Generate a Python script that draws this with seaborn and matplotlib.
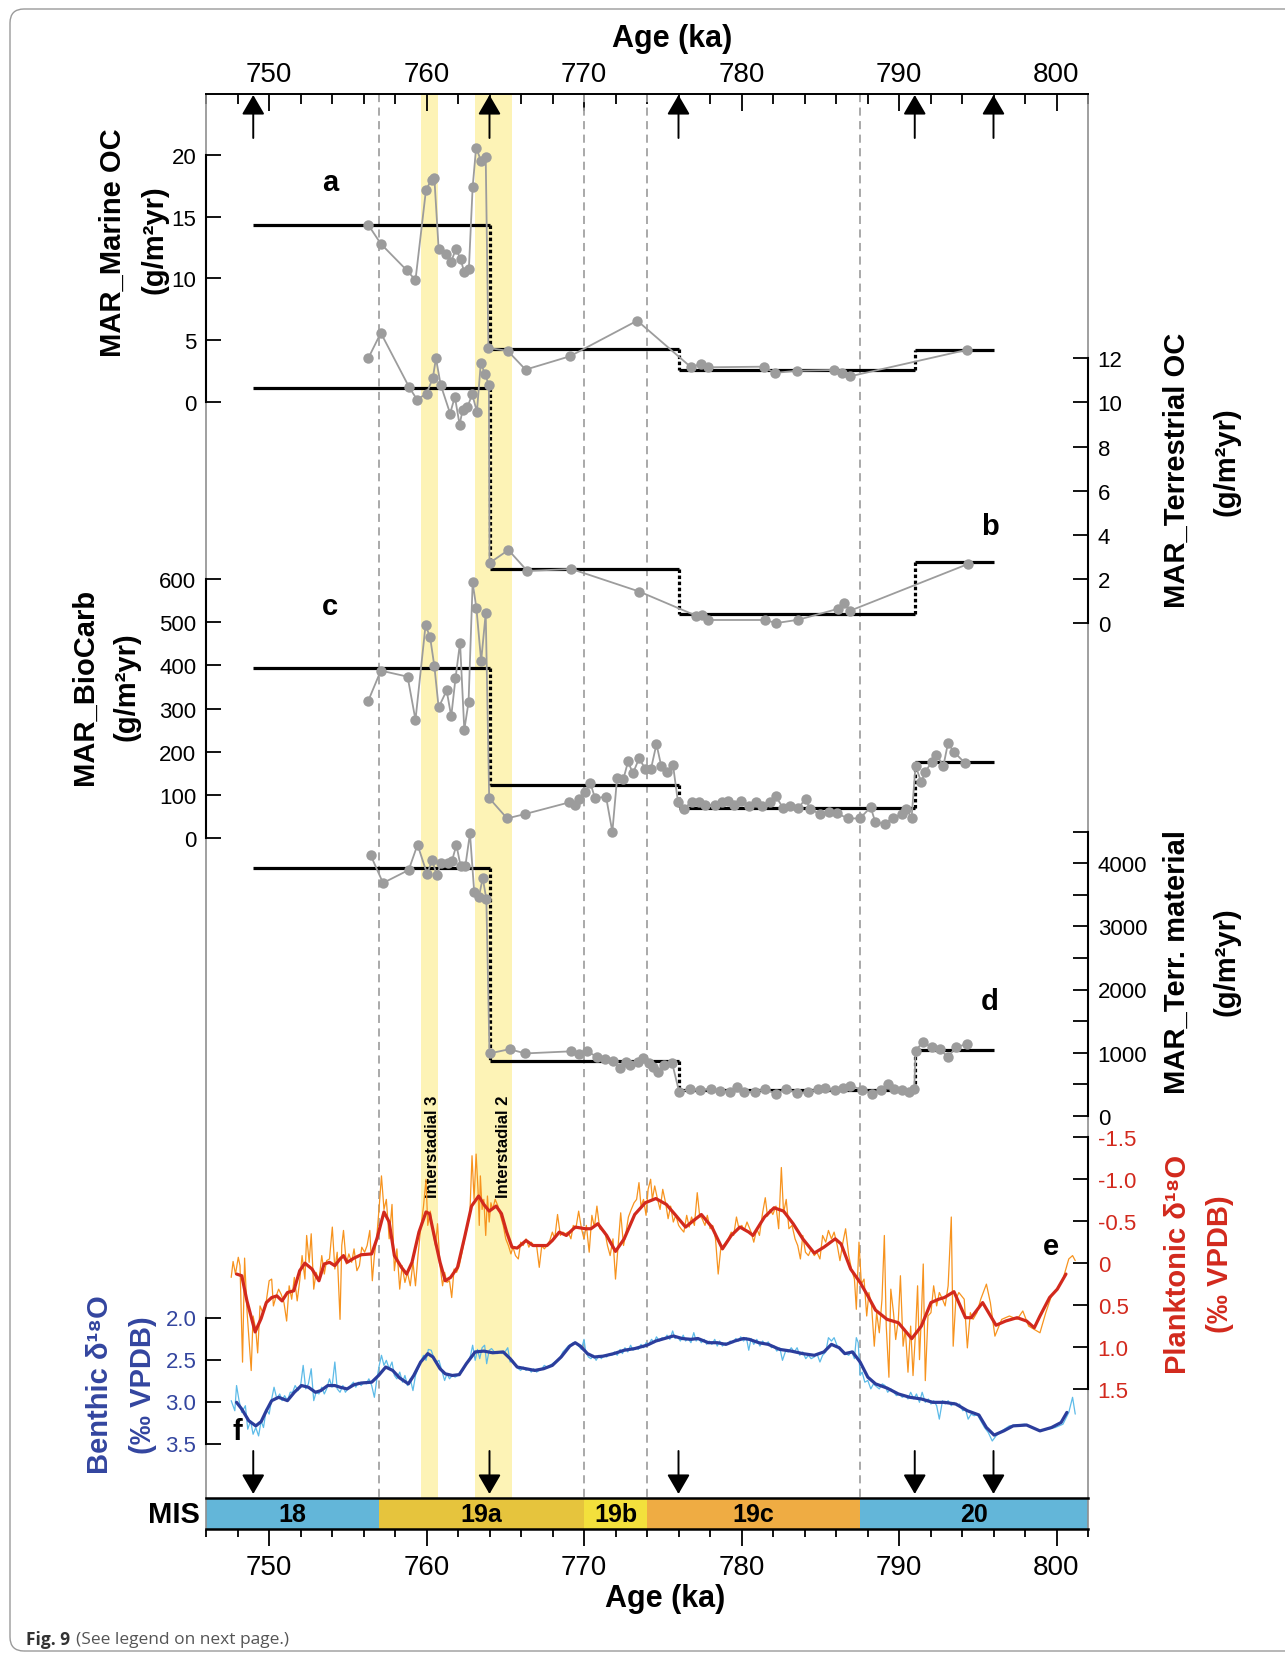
import matplotlib
matplotlib.use("Agg")
import matplotlib.pyplot as plt
from matplotlib.patches import FancyBboxPatch
from matplotlib.ticker import MultipleLocator, FixedLocator
from matplotlib.transforms import IdentityTransform
import numpy as np
import pandas as pd
import seaborn as sns

# ---------------- data ----------------
mis_stages = ["18", "19a", "19b", "19c", "20"]
mis_bounds = [746, 757, 770, 774, 787.5, 802]
mis_colors = ["#63b6d9", "#e6c43d", "#f3e03c", "#efac43", "#63b6d9"]

interstadial_names = ["Interstadial 3", "Interstadial 2"]
interstadial_spans = [(759.65, 760.75), (763.1, 765.4)]

arrow_ages = [749, 764, 776, 791, 796]
step_edges = [749, 764, 776, 791, 796]

# (a) MAR marine OC
a_age = [756.3, 757.1, 758.75, 759.3, 759.97, 760.33, 760.5, 760.77, 761.26, 761.55, 761.87,
         762.16, 762.4, 762.69, 762.93, 763.15, 763.47, 763.76, 763.93, 765.15, 766.29, 769.1,
         773.38, 776.8, 777.4, 777.9, 781.4, 782.1, 783.5, 785.9, 786.4, 786.9, 794.3]
a_val = [14.34, 12.8, 10.65, 9.86, 17.2, 18.0, 18.1, 12.4, 12.0, 11.3, 12.4,
         11.56, 10.5, 10.75, 17.4, 20.6, 19.5, 19.8, 4.35, 4.13, 2.6, 3.68,
         6.57, 2.79, 3.06, 2.79, 2.84, 2.33, 2.51, 2.57, 2.33, 2.06, 4.2]
a_means = [14.35, 4.27, 2.54, 4.2]

# (b) MAR terrestrial OC
b_age = [756.3, 757.1, 758.9, 759.4, 760.0, 760.4, 760.6, 760.9, 761.5, 761.8, 762.1,
         762.3, 762.6, 762.9, 763.2, 763.45, 763.7, 763.96, 764.0, 765.2, 766.4, 769.2,
         773.5, 777.1, 777.5, 777.9, 781.5, 782.2, 783.6, 786.1, 786.5, 786.9, 794.4]
b_val = [12.0, 13.15, 10.69, 10.13, 10.4, 11.1, 12.0, 10.8, 9.5, 10.26, 9.0,
         9.67, 9.78, 10.38, 9.58, 11.8, 11.3, 10.8, 2.73, 3.32, 2.37, 2.46,
         1.44, 0.35, 0.39, 0.15, 0.15, 0.01, 0.16, 0.65, 0.92, 0.57, 2.69]
b_means = [10.67, 2.47, 0.42, 2.76]

# (c) MAR biogenic carbonate
c_age = [756.3, 757.1, 758.8, 759.3, 759.94, 760.23, 760.5, 760.77, 761.28, 761.57,
         761.84, 762.13, 762.4, 762.67, 762.93, 763.17, 763.47, 763.76, 763.98, 765.12,
         766.24, 769.05, 769.4, 769.7, 770.05, 770.4, 770.7, 771.4, 771.8, 772.1,
         772.5, 772.8, 773.1, 773.5, 773.9, 774.25, 774.6, 774.9, 775.25, 775.65,
         775.97, 776.35, 776.83, 777.27, 777.68, 778.29, 778.77, 779.14, 779.5, 779.99,
         780.47, 780.91, 781.33, 781.81, 782.18, 782.66, 783.1, 783.58, 784.07, 784.36,
         784.97, 785.53, 786.06, 786.75, 787.52, 788.2, 788.49, 789.1, 789.59, 790.19,
         790.44, 790.8, 791.05, 791.41, 791.65, 792.09, 792.38, 792.82, 793.11, 793.48,
         794.2]
c_val = [318, 388, 374, 274, 493, 465, 398, 303, 342, 282,
         370, 453, 251, 315, 592, 532, 410, 521, 93, 46,
         56, 83, 77, 91, 106, 128, 93, 96, 15, 139,
         137, 178, 150, 185, 160, 160, 218, 168, 153, 170,
         83, 68, 85, 83, 77, 77, 83, 87, 77, 87,
         75, 85, 74, 83, 97, 69, 75, 69, 91, 68,
         56, 62, 58, 46, 46, 72, 38, 33, 48, 56,
         68, 48, 168, 130, 153, 177, 193, 168, 220, 200,
         174]
c_means = [393, 124, 69, 177]

# (d) MAR terrigenous material
d_age = [756.45, 757.24, 758.87, 759.43, 760.04, 760.36, 760.65, 760.94, 761.38, 761.62,
         761.9, 762.16, 762.47, 762.76, 763.03, 763.32, 763.57, 763.8,
         764.0, 765.27, 766.27, 769.16, 769.7, 770.2, 770.8, 771.36, 771.85, 772.26,
         772.65, 772.94, 773.43, 773.74, 774.1, 774.4, 774.7, 775.1, 775.6,
         776.05, 776.71, 777.36, 778.04, 778.65, 779.26, 779.7, 780.18, 780.84, 781.5,
         782.17, 782.85, 783.51, 784.24, 784.85, 785.33, 785.94, 786.43, 786.91, 787.64,
         788.3, 788.86, 789.27, 789.71, 790.2, 790.63, 790.97,
         791.05, 791.5, 792.1, 792.6, 793.1, 793.6, 794.3]
d_val = [4131, 3688, 3894, 4295, 3830, 4052, 3815, 4005, 4005, 4042,
         4290, 3962, 3962, 4475, 3540, 3461, 3767, 3434,
         987, 1054, 987, 1020, 970, 1020, 936, 898, 872, 750,
         845, 803, 845, 909, 830, 766, 687, 803, 830,
         370, 423, 412, 423, 397, 370, 449, 370, 381, 423,
         344, 423, 360, 370, 423, 433, 412, 433, 476, 412,
         344, 412, 502, 423, 412, 381, 423,
         1031, 1162, 1083, 1057, 925, 1083, 1136]
d_means = [3920, 872, 412, 1041]

# (e) planktonic d18O: raw record and smoothed curve (age ka, permil)
plank_raw = [
    (747.6, 0.17), (747.72, -0.02), (747.87, 0.13), (748.05, -0.07), (748.16, 0.03), (748.32, 1.18),
    (748.45, -0.06), (748.61, 0.59), (748.87, 1.28), (748.99, 0.63), (749.16, 0.79), (749.28, 1.07),
    (749.43, 0.51), (749.61, 0.59), (749.83, 0.45), (750.01, 0.21), (750.17, 0.19), (750.28, 0.51),
    (750.46, 0.39), (750.61, 0.31), (750.77, 0.37), (750.95, 0.47), (751.12, 0.69), (751.28, 0.27),
    (751.44, 0.43), (751.61, 0.17), (751.79, 0.45), (751.95, 0.21), (752.1, -0.09), (752.28, 0.19),
    (752.39, -0.33), (752.55, -0.01), (752.68, -0.35), (752.84, 0.31), (752.99, 0.11), (753.17, 0.21),
    (753.35, -0.09), (753.51, 0.13), (753.66, -0.03), (753.84, -0.05), (754.02, -0.43), (754.18, 0.07),
    (754.33, -0.13), (754.51, 0.67), (754.62, -0.21), (754.73, -0.39), (754.91, 0.01), (755.07, -0.11),
    (755.25, -0.01), (755.4, -0.17), (755.58, 0.09), (755.74, 0.03), (755.89, -0.19), (756.07, -0.13),
    (756.23, -0.21), (756.4, -0.39), (756.56, 0.21), (756.69, -0.09), (756.85, -0.33), (757.0, -0.68),
    (757.14, -1.04), (757.3, -0.64), (757.45, -0.76), (757.63, -0.29), (757.81, -0.70), (757.96, 0.09),
    (758.12, -0.17), (758.3, 0.31), (758.45, 0.03), (758.63, 0.23), (758.79, 0.11), (758.97, 0.27),
    (759.14, -0.01), (759.3, 0.27), (759.46, -0.09), (759.63, -0.41), (759.81, -0.68), (759.97, -1.00),
    (760.08, -0.45), (760.24, -0.62), (760.41, -0.37), (760.57, -0.21), (760.7, -0.47), (760.86, 0.03),
    (761.02, 0.27), (761.15, 0.11), (761.3, 0.23), (761.46, 0.21), (761.6, 0.41), (761.75, 0.07),
    (761.91, 0.11), (762.08, 0.03), (762.26, -0.13), (762.42, -0.29), (762.57, -0.41), (762.75, -0.57),
    (762.89, -1.28), (763.02, -0.76), (763.15, -1.30), (763.27, -0.88), (763.35, -0.45), (763.42, -1.04),
    (763.53, -0.64), (763.64, -0.76), (763.76, -0.33), (763.87, -0.80), (763.98, -0.49), (764.09, -0.72),
    (764.2, -0.64), (764.36, -0.76), (764.54, -0.68), (764.69, -0.57), (764.87, -0.45), (765.03, -0.29),
    (765.2, -0.21), (765.36, -0.11), (765.49, -0.19), (765.65, -0.09), (765.83, -0.05), (765.98, -0.25),
    (766.14, -0.21), (766.32, -0.29), (766.5, -0.19), (766.65, -0.25), (766.81, -0.21), (766.99, -0.21),
    (767.16, 0.05), (767.32, -0.21), (767.48, -0.17), (767.65, -0.21), (767.83, -0.27), (767.99, -0.37),
    (768.14, -0.29), (768.32, -0.58), (768.5, -0.33), (768.66, -0.37), (768.81, -0.35), (768.99, -0.37),
    (769.17, -0.29), (769.32, -0.45), (769.48, -0.41), (769.66, -0.62), (769.84, -0.41), (770.0, -0.29),
    (770.15, -0.45), (770.33, -0.13), (770.5, -0.57), (770.66, -0.43), (770.82, -0.68), (771.0, -0.41),
    (771.17, -0.39), (771.33, -0.37), (771.49, -0.21), (771.66, -0.09), (771.84, -0.29), (772.0, 0.19),
    (772.15, -0.17), (772.33, -0.60), (772.51, -0.21), (772.67, -0.37), (772.82, -0.55), (773.0, -0.64),
    (773.18, -0.72), (773.34, -0.76), (773.49, -0.96), (773.62, -0.68), (773.78, -0.76), (773.94, -0.57),
    (774.07, -0.88), (774.23, -1.00), (774.34, -0.76), (774.49, -0.92), (774.67, -0.76), (774.83, -0.64),
    (775.0, -0.88), (775.18, -0.72), (775.34, -0.53), (775.5, -0.68), (775.67, -0.49), (775.83, -0.57),
    (776.01, -0.45), (776.16, -0.41), (776.34, -0.37), (776.52, -0.57), (776.68, -0.43), (776.83, -0.55),
    (777.01, -0.45), (777.19, -0.84), (777.34, -0.57), (777.5, -0.53), (777.68, -0.45), (777.83, -0.57),
    (778.01, -0.41), (778.17, -0.45), (778.35, -0.29), (778.52, 0.13), (778.68, -0.17), (778.84, -0.21),
    (779.01, -0.25), (779.17, -0.29), (779.35, -0.37), (779.5, -0.33), (779.68, -0.55), (779.84, -0.41),
    (780.02, -0.45), (780.17, -0.39), (780.35, -0.49), (780.61, -0.37), (780.78, -0.25), (780.97, -0.41),
    (781.14, -0.33), (781.34, -0.60), (781.51, -0.78), (781.65, -0.56), (781.82, -0.64), (781.99, -0.58),
    (782.19, -0.68), (782.36, -0.41), (782.53, -1.14), (782.67, -0.60), (782.84, -0.76), (783.01, -0.41),
    (783.21, -0.45), (783.4, -0.29), (783.57, -0.21), (783.74, -0.05), (783.89, -0.33), (784.06, -0.13),
    (784.25, -0.09), (784.42, -0.17), (784.62, -0.09), (784.79, -0.13), (784.98, -0.05), (785.15, -0.33),
    (785.35, -0.25), (785.52, -0.39), (785.71, -0.29), (785.88, -0.37), (786.08, -0.21), (786.25, -0.03),
    (786.44, -0.25), (786.61, -0.41), (786.81, -0.09), (786.98, 0.07), (787.17, 0.19), (787.29, 0.55),
    (787.46, -0.25), (787.61, 0.25), (787.78, 0.19), (787.95, 0.63), (788.09, 0.35), (788.26, 0.51),
    (788.43, 0.99), (788.58, 0.59), (788.75, 0.83), (788.92, 0.43), (789.07, -0.33), (789.19, 0.75),
    (789.36, 1.36), (789.48, 0.31), (789.65, 0.59), (789.79, 0.91), (789.96, 0.67), (790.09, 0.15),
    (790.26, 0.99), (790.4, 0.79), (790.57, 1.30), (790.74, 0.75), (790.89, 1.34), (791.06, 0.79),
    (791.18, 0.27), (791.3, 1.15), (791.42, 0.63), (791.54, 0.01), (791.67, 1.40), (791.84, 0.63),
    (792.03, 0.59), (792.2, 0.27), (792.39, 0.51), (792.56, 0.35), (792.76, 0.43), (792.93, 0.51),
    (793.12, 0.27), (793.32, -0.55), (793.44, 0.99), (793.61, 0.43), (793.8, 0.35), (793.97, 0.39),
    (794.14, 0.43), (794.34, 1.01), (794.53, 0.59), (794.7, 0.67), (794.95, 0.59), (795.19, 0.43),
    (795.55, 0.25), (795.8, 0.47), (796.09, 0.87), (796.52, 0.67), (797.01, 0.63), (797.5, 0.67),
    (797.86, 0.57), (798.23, 0.75), (798.59, 0.79), (798.95, 0.83), (799.32, 0.59), (799.68, 0.39),
    (800.05, 0.31), (800.41, 0.19), (800.78, -0.05), (801.02, -0.09), (801.19, -0.03)]

plank_smooth = [
    (747.94, 0.13), (748.27, 0.15), (748.6, 0.45), (749.12, 0.82), (749.5, 0.66), (749.83, 0.47),
    (750.17, 0.41), (750.5, 0.39), (750.83, 0.45), (751.17, 0.35), (751.57, 0.33), (751.95, 0.09),
    (752.28, 0.0), (752.73, 0.07), (753.17, 0.21), (753.5, 0.01), (753.84, -0.01), (754.18, 0.03),
    (754.51, -0.05), (754.73, -0.09), (754.96, -0.01), (755.4, -0.06), (755.85, -0.10), (756.52, -0.11),
    (756.85, -0.29), (757.3, -0.61), (757.63, -0.49), (757.96, -0.09), (758.41, 0.05), (758.74, 0.13),
    (759.08, -0.01), (759.52, -0.37), (759.97, -0.61), (760.19, -0.59), (760.53, -0.29), (760.86, -0.01),
    (761.19, 0.21), (761.53, 0.17), (761.97, 0.05), (762.42, -0.31), (762.86, -0.68), (763.31, -0.80),
    (763.64, -0.70), (763.98, -0.62), (764.42, -0.68), (764.76, -0.59), (765.09, -0.37), (765.43, -0.19),
    (765.76, -0.18), (766.32, -0.27), (766.76, -0.21), (767.21, -0.21), (767.65, -0.21), (767.99, -0.27),
    (768.43, -0.37), (768.88, -0.33), (769.44, -0.43), (770.1, -0.41), (770.44, -0.41), (770.88, -0.47),
    (771.44, -0.33), (772.0, -0.14), (772.55, -0.29), (773.22, -0.58), (773.89, -0.72), (774.56, -0.77),
    (775.23, -0.70), (775.78, -0.58), (776.45, -0.43), (776.9, -0.50), (777.45, -0.58), (778.12, -0.43),
    (778.79, -0.17), (779.35, -0.33), (779.9, -0.43), (780.46, -0.37), (780.73, -0.33), (781.46, -0.55),
    (782.07, -0.66), (782.67, -0.62), (783.28, -0.47), (783.89, -0.29), (784.62, -0.12), (785.23, -0.19),
    (785.95, -0.29), (786.32, -0.23), (786.93, 0.07), (787.53, 0.23), (788.02, 0.39), (788.51, 0.56),
    (789.24, 0.67), (789.96, 0.71), (790.81, 0.90), (791.42, 0.75), (792.03, 0.47), (792.52, 0.43),
    (792.88, 0.41), (793.49, 0.34), (794.22, 0.65), (794.58, 0.65), (795.31, 0.47), (796.16, 0.74),
    (796.77, 0.69), (797.5, 0.65), (798.1, 0.69), (798.59, 0.77), (798.95, 0.63), (799.56, 0.41),
    (800.05, 0.31), (800.6, 0.13)]

# (f) benthic d18O: raw record and smoothed curve (age ka, permil)
benth_raw = [
    (747.6, 2.99), (747.83, 3.11), (747.94, 2.81), (748.1, 2.99), (748.27, 3.13), (748.5, 3.05),
    (748.65, 3.33), (748.83, 3.23), (748.99, 3.39), (749.16, 3.31), (749.34, 3.41), (749.5, 3.23),
    (749.65, 3.31), (749.83, 3.09), (750.01, 3.15), (750.17, 2.97), (750.32, 2.83), (750.5, 2.97),
    (750.68, 2.91), (750.83, 2.99), (750.99, 2.93), (751.17, 2.99), (751.35, 2.89), (751.5, 2.89),
    (751.66, 2.81), (751.84, 2.87), (752.02, 2.79), (752.17, 2.57), (752.33, 2.85), (752.5, 2.79),
    (752.68, 2.61), (752.84, 2.99), (752.99, 2.89), (753.17, 2.91), (753.35, 2.83), (753.51, 2.91),
    (753.66, 2.85), (753.84, 2.73), (754.0, 2.83), (754.18, 2.53), (754.33, 2.85), (754.51, 2.89),
    (754.69, 2.81), (754.85, 2.89), (755.0, 2.85), (755.18, 2.81), (755.36, 2.77), (755.51, 2.83),
    (755.67, 2.77), (755.85, 2.81), (756.03, 2.77), (756.18, 2.79), (756.34, 2.73), (756.52, 2.81),
    (756.69, 2.95), (756.85, 2.73), (757.0, 2.57), (757.14, 2.45), (757.3, 2.57), (757.45, 2.51),
    (757.63, 2.61), (757.81, 2.53), (757.96, 2.69), (758.12, 2.73), (758.3, 2.65), (758.48, 2.77),
    (758.63, 2.69), (758.79, 2.81), (758.97, 2.73), (759.14, 2.87), (759.3, 2.69), (759.46, 2.61),
    (759.63, 2.53), (759.81, 2.45), (759.97, 2.51), (760.12, 2.38), (760.3, 2.39), (760.48, 2.49),
    (760.64, 2.53), (760.79, 2.51), (760.97, 2.63), (761.15, 2.75), (761.3, 2.67), (761.46, 2.73),
    (761.64, 2.69), (761.82, 2.71), (761.97, 2.69), (762.13, 2.65), (762.31, 2.63), (762.46, 2.57),
    (762.64, 2.53), (762.8, 2.45), (762.93, 2.33), (763.09, 2.51), (763.24, 2.38), (763.38, 2.49),
    (763.53, 2.36), (763.69, 2.33), (763.82, 2.55), (763.98, 2.39), (764.13, 2.37), (764.31, 2.41),
    (764.49, 2.43), (764.65, 2.41), (764.8, 2.43), (764.98, 2.41), (765.16, 2.36), (765.31, 2.53),
    (765.47, 2.51), (765.65, 2.57), (765.83, 2.61), (765.98, 2.63), (766.14, 2.59), (766.32, 2.63),
    (766.5, 2.61), (766.65, 2.65), (766.81, 2.61), (766.99, 2.65), (767.16, 2.63), (767.32, 2.61),
    (767.48, 2.57), (767.65, 2.59), (767.83, 2.57), (767.99, 2.55), (768.14, 2.53), (768.32, 2.51),
    (768.5, 2.47), (768.66, 2.41), (768.81, 2.38), (768.99, 2.34), (769.17, 2.32), (769.32, 2.30),
    (769.48, 2.30), (769.66, 2.34), (769.84, 2.38), (770.0, 2.26), (770.11, 2.41), (770.28, 2.47),
    (770.44, 2.49), (770.59, 2.45), (770.77, 2.51), (770.95, 2.45), (771.1, 2.49), (771.26, 2.45),
    (771.44, 2.47), (771.62, 2.43), (771.77, 2.45), (771.93, 2.41), (772.11, 2.45), (772.29, 2.38),
    (772.44, 2.43), (772.6, 2.36), (772.78, 2.41), (772.96, 2.33), (773.11, 2.39), (773.27, 2.36),
    (773.45, 2.38), (773.62, 2.32), (773.78, 2.36), (773.94, 2.30), (774.11, 2.32), (774.29, 2.26),
    (774.45, 2.30), (774.6, 2.23), (774.78, 2.28), (774.96, 2.24), (775.12, 2.26), (775.27, 2.21),
    (775.45, 2.26), (775.63, 2.16), (775.78, 2.25), (775.94, 2.23), (776.12, 2.28), (776.3, 2.21),
    (776.45, 2.28), (776.61, 2.25), (776.79, 2.30), (776.97, 2.18), (777.12, 2.28), (777.28, 2.25),
    (777.45, 2.30), (777.63, 2.26), (777.79, 2.32), (777.95, 2.28), (778.12, 2.32), (778.3, 2.26),
    (778.46, 2.34), (778.61, 2.28), (778.79, 2.34), (778.97, 2.30), (779.13, 2.32), (779.28, 2.28),
    (779.46, 2.30), (779.64, 2.25), (779.8, 2.28), (779.95, 2.23), (780.13, 2.28), (780.31, 2.24),
    (780.46, 2.39), (780.61, 2.25), (780.78, 2.32), (780.97, 2.26), (781.17, 2.34), (781.34, 2.28),
    (781.51, 2.32), (781.7, 2.29), (781.9, 2.36), (782.07, 2.34), (782.24, 2.40), (782.43, 2.36),
    (782.6, 2.51), (782.8, 2.40), (782.97, 2.41), (783.16, 2.36), (783.35, 2.41), (783.53, 2.36),
    (783.7, 2.45), (783.89, 2.41), (784.08, 2.49), (784.25, 2.45), (784.42, 2.49), (784.62, 2.47),
    (784.79, 2.43), (784.98, 2.53), (785.15, 2.45), (785.35, 2.41), (785.52, 2.24), (785.71, 2.28),
    (785.88, 2.24), (786.08, 2.34), (786.25, 2.36), (786.44, 2.41), (786.61, 2.43), (786.81, 2.45),
    (786.98, 2.40), (787.17, 2.49), (787.29, 2.24), (787.41, 2.30), (787.53, 2.69), (787.66, 2.65),
    (787.83, 2.77), (788.02, 2.75), (788.21, 2.85), (788.38, 2.79), (788.55, 2.82), (788.75, 2.85),
    (788.94, 2.79), (789.11, 2.81), (789.28, 2.89), (789.48, 2.85), (789.67, 2.89), (789.84, 2.93),
    (790.01, 2.91), (790.21, 2.95), (790.4, 2.93), (790.57, 2.97), (790.74, 2.89), (790.94, 2.97),
    (791.11, 2.91), (791.3, 3.01), (791.47, 2.89), (791.67, 3.01), (791.86, 2.97), (792.03, 3.03),
    (792.2, 2.99), (792.39, 3.05), (792.56, 3.21), (792.76, 2.99), (792.93, 3.03), (793.12, 2.99),
    (793.32, 3.05), (793.49, 3.01), (793.66, 3.05), (793.85, 3.03), (794.05, 3.11), (794.22, 3.09),
    (794.39, 3.21), (794.58, 3.15), (794.78, 3.17), (794.95, 3.15), (795.19, 3.23), (795.43, 3.31),
    (795.67, 3.37), (795.92, 3.47), (796.16, 3.41), (796.52, 3.35), (797.01, 3.29), (797.5, 3.28),
    (797.98, 3.27), (798.47, 3.31), (798.95, 3.35), (799.44, 3.33), (799.92, 3.31), (800.41, 3.27),
    (800.78, 3.13), (801.02, 2.95), (801.19, 3.15)]

benth_smooth = [
    (747.94, 3.01), (748.27, 3.09), (748.72, 3.23), (749.16, 3.29), (749.5, 3.24), (749.83, 3.11),
    (750.17, 2.99), (750.61, 2.95), (751.17, 2.99), (751.61, 2.89), (752.06, 2.81), (752.5, 2.83),
    (752.95, 2.89), (753.29, 2.87), (753.73, 2.81), (754.18, 2.81), (754.51, 2.83), (754.96, 2.85),
    (755.4, 2.80), (755.85, 2.78), (756.52, 2.77), (756.96, 2.69), (757.41, 2.59), (757.85, 2.63),
    (758.3, 2.72), (758.85, 2.79), (759.19, 2.69), (759.63, 2.53), (760.08, 2.43), (760.41, 2.47),
    (760.86, 2.61), (761.19, 2.67), (761.64, 2.69), (762.08, 2.68), (762.53, 2.55), (763.09, 2.41),
    (763.64, 2.40), (764.2, 2.42), (764.87, 2.41), (765.31, 2.49), (765.76, 2.59), (766.32, 2.61),
    (766.87, 2.63), (767.43, 2.61), (767.99, 2.57), (768.55, 2.47), (769.1, 2.34), (769.44, 2.30),
    (769.77, 2.34), (770.22, 2.43), (770.66, 2.47), (771.22, 2.46), (771.89, 2.43), (772.55, 2.39),
    (773.22, 2.37), (774.0, 2.33), (774.56, 2.28), (775.12, 2.25), (775.67, 2.22), (776.23, 2.25),
    (776.79, 2.26), (777.23, 2.25), (777.9, 2.30), (778.46, 2.30), (779.01, 2.32), (779.57, 2.28),
    (780.13, 2.25), (780.49, 2.26), (781.1, 2.30), (781.7, 2.32), (782.43, 2.38), (783.16, 2.40),
    (783.89, 2.43), (784.62, 2.45), (785.23, 2.41), (785.71, 2.32), (786.2, 2.36), (786.56, 2.43),
    (787.05, 2.41), (787.53, 2.53), (788.02, 2.71), (788.51, 2.79), (789.24, 2.84), (789.96, 2.91),
    (790.69, 2.95), (791.42, 2.97), (792.15, 3.01), (792.88, 3.01), (793.61, 3.03), (794.34, 3.11),
    (795.07, 3.16), (795.55, 3.31), (796.04, 3.40), (796.65, 3.35), (797.25, 3.29), (798.1, 3.28),
    (798.95, 3.35), (799.68, 3.31), (800.29, 3.25), (800.66, 3.13)]

# ---------------- style ----------------
sns.set_theme(style="white")
plt.rcParams["font.family"] = ["Liberation Sans", "DejaVu Sans"]
plt.rcParams["text.color"] = "black"
plt.rcParams["xtick.color"] = "black"
plt.rcParams["ytick.color"] = "black"

RED = "#d2291d"
BLUE = "#33459f"
GREY = "#9c9c9c"

W, H = 1285, 1658
fig = plt.figure(figsize=(W / 100, H / 100), dpi=100)
fig.patch.set_facecolor("white")


def rect(x0, y0, x1, y1):
    return [x0 / W, 1 - y1 / H, (x1 - x0) / W, (y1 - y0) / H]


def ftext(x, y, s, **kw):
    fig.text(x / W, 1 - y / H, s, **kw)


XLIM = (746, 802)
X0, Y0, X1, Y1 = 206, 95, 1088, 1499

# main frame: x in ka, y in frame rows (used for the decorations only)
ax = fig.add_axes(rect(X0, Y0, X1, Y1))
ax.set_xlim(*XLIM)
ax.set_ylim(Y1, Y0)
ax.set_yticks([])
ax.set_facecolor("none")
for s in ("left", "right"):
    ax.spines[s].set_color("#8f8f8f")
    ax.spines[s].set_linewidth(1.2)
ax.spines["bottom"].set_visible(False)
ax.spines["top"].set_color("black")
ax.spines["top"].set_linewidth(1.4)
ax.xaxis.set_ticks_position("top")
ax.set_xticks(range(750, 801, 10))
ax.xaxis.set_minor_locator(MultipleLocator(2))
ax.tick_params(axis="x", which="major", direction="in", length=12.5, width=1.3,
               labelsize=20, pad=5, top=True, bottom=False, labeltop=True, labelbottom=False)
ax.tick_params(axis="x", which="minor", direction="in", length=7, width=1.3,
               top=True, bottom=False)

for lo, hi in interstadial_spans:
    ax.axvspan(lo, hi, color="#fdf3b6", lw=0, zorder=0)
ax.vlines(mis_bounds[1:-1], Y0, Y1, colors="#a3a3a3", linestyles=(0, (4.5, 3)), lw=1.3, zorder=1)

head = "-|>,head_length=0.6,head_width=0.35"
for a in arrow_ages:
    ax.annotate("", xy=(a, 96), xytext=(a, 139),
                arrowprops=dict(arrowstyle=head, mutation_scale=20, color="black", lw=1.4,
                                shrinkA=0, shrinkB=0))
    ax.annotate("", xy=(a, 1495), xytext=(a, 1452),
                arrowprops=dict(arrowstyle=head, mutation_scale=20, color="black", lw=1.4,
                                shrinkA=0, shrinkB=0))

for name, (lo, hi) in zip(interstadial_names, interstadial_spans):
    xc = lo + (hi - lo) * (0.64 if name.endswith("3") else 0.78)
    ax.text(xc, 1198, name, rotation=90, ha="center", va="bottom", fontsize=12, weight="bold")


def panel_axis(side, ref, ticks, bounds, labels, minor=None, color="black"):
    (v0, p0), (v1, p1) = ref
    t = ax.twinx()
    slope = (p1 - p0) / (v1 - v0)
    t.set_ylim(v0 + (Y1 - p0) / slope, v0 + (Y0 - p0) / slope)
    for s in t.spines.values():
        s.set_visible(False)
    sp = t.spines[side]
    sp.set_visible(True)
    sp.set_bounds(*bounds)
    sp.set_color("black")
    sp.set_linewidth(1.5)
    if side == "left":
        t.yaxis.tick_left()
    else:
        t.yaxis.tick_right()
    t.set_yticks(ticks)
    t.set_yticklabels(labels)
    if minor is not None:
        t.yaxis.set_minor_locator(FixedLocator(minor))
    t.tick_params(axis="y", which="both", direction="in", length=11, width=1.3,
                  labelsize=16, pad=7, labelcolor=color,
                  left=(side == "left"), right=(side == "right"),
                  labelleft=(side == "left"), labelright=(side == "right"))
    return t


def mar_panel(t, ages, vals, means):
    m = np.asarray(means, dtype=float)
    t.hlines(m, step_edges[:-1], step_edges[1:], colors="black", lw=2.3, zorder=2)
    t.vlines(step_edges[1:-1], m[:-1], m[1:], colors="black", lw=2.3,
             linestyles=(0, (1.1, 0.8)), zorder=2)
    sns.lineplot(x=ages, y=vals, ax=t, color=GREY, lw=1.3, marker="o", markersize=7.5,
                 markeredgewidth=0, sort=False, estimator=None, zorder=3)
    t.set_xlabel("")
    t.set_ylabel("")


ta = panel_axis("left", ((0, 402.7), (20, 156.0)), [0, 5, 10, 15, 20], (0, 20),
                ["0", "5", "10", "15", "20"])
mar_panel(ta, a_age, a_val, a_means)

tb = panel_axis("right", ((0, 624.3), (12, 359.3)), list(range(0, 13, 2)), (0, 12),
                [str(v) for v in range(0, 13, 2)])
mar_panel(tb, b_age, b_val, b_means)

tc = panel_axis("left", ((0, 839.3), (600, 580.0)), list(range(0, 601, 100)), (0, 600),
                [str(v) for v in range(0, 601, 100)])
mar_panel(tc, c_age, c_val, c_means)

td = panel_axis("right", ((0, 1116.7), (4000, 864.3)), list(range(0, 4001, 1000)), (0, 4500),
                [str(v) for v in range(0, 4001, 1000)], minor=list(range(500, 4501, 1000)))
mar_panel(td, d_age, d_val, d_means)

tp = panel_axis("right", ((-1.5, 1138.3), (1.5, 1390.0)), [-1.5, -1.0, -0.5, 0, 0.5, 1.0, 1.5],
                (-1.5, 1.5), ["-1.5", "-1.0", "-0.5", "0", "0.5", "1.0", "1.5"], color=RED)
pr = pd.DataFrame(plank_raw, columns=["age", "d18O"])
ps = pd.DataFrame(plank_smooth, columns=["age", "d18O"])
sns.lineplot(data=pr, x="age", y="d18O", ax=tp, color="#f7931e", lw=0.9, sort=False, estimator=None)
sns.lineplot(data=ps, x="age", y="d18O", ax=tp, color=RED, lw=2.3, sort=False, estimator=None)
tp.set_xlabel("")
tp.set_ylabel("")

tbn = panel_axis("left", ((2.0, 1318.5), (3.5, 1444.5)), [2.0, 2.5, 3.0, 3.5], (2.0, 3.5),
                 ["2.0", "2.5", "3.0", "3.5"], color=BLUE)
br = pd.DataFrame(benth_raw, columns=["age", "d18O"])
bs = pd.DataFrame(benth_smooth, columns=["age", "d18O"])
sns.lineplot(data=br, x="age", y="d18O", ax=tbn, color="#5dbbe8", lw=0.9, sort=False, estimator=None)
sns.lineplot(data=bs, x="age", y="d18O", ax=tbn, color="#2b3d9c", lw=2.3, sort=False, estimator=None)
tbn.set_xlabel("")
tbn.set_ylabel("")

ax.set_xlim(*XLIM)

# MIS stage bar with the bottom age axis
axm = fig.add_axes(rect(X0, 1499, X1, 1530))
starts = np.array(mis_bounds[:-1], dtype=float)
widths = np.diff(np.array(mis_bounds, dtype=float))
axm.barh(0, widths, left=starts, height=1, color=mis_colors, edgecolor="none")
axm.set_xlim(*XLIM)
axm.set_ylim(-0.5, 0.5)
axm.set_yticks([])
for s in ("top", "bottom"):
    axm.spines[s].set_color("black")
    axm.spines[s].set_linewidth(1.8)
for s in ("left", "right"):
    axm.spines[s].set_color("#8f8f8f")
    axm.spines[s].set_linewidth(1.2)
for name, lo, w in zip(mis_stages, starts, widths):
    axm.text(lo + w / 2, -0.03, name, ha="center", va="center", fontsize=18, weight="bold")
axm.set_xticks(range(750, 801, 10))
axm.xaxis.set_minor_locator(MultipleLocator(2))
axm.tick_params(axis="x", which="major", direction="out", length=12, width=1.3,
                labelsize=20, pad=6, bottom=True)
axm.tick_params(axis="x", which="minor", direction="out", length=6, width=1.3, bottom=True)

# axis titles
lab = dict(rotation=90, ha="center", va="center", fontsize=21, weight="bold")
ftext(113, 243, "MAR_Marine OC", **lab)
ftext(155, 240, "(g/m²yr)", **lab)
ftext(85, 687, "MAR_BioCarb", **lab)
ftext(127, 687, "(g/m²yr)", **lab)
ftext(1177, 470, "MAR_Terrestrial OC", **lab)
ftext(1227, 462, "(g/m²yr)", **lab)
ftext(1177, 962, "MAR_Terr. material", **lab)
ftext(1227, 962, "(g/m²yr)", **lab)
ftext(1178, 1264, "Planktonic δ¹⁸O", color=RED, **lab)
ftext(1220, 1264, "(‰ VPDB)", color=RED, **lab)
ftext(100, 1385, "Benthic δ¹⁸O", color=BLUE, **lab)
ftext(143, 1385, "(‰ VPDB)", color=BLUE, **lab)

ftext(672, 39, "Age (ka)", ha="center", va="center", fontsize=22, weight="bold")
ftext(665, 1599, "Age (ka)", ha="center", va="center", fontsize=22, weight="bold")
ftext(200, 1515, "MIS", ha="right", va="center", fontsize=21, weight="bold")

# panel letters
for letter, (px, py) in zip("abcdef", [(330, 183), (990, 527), (330, 607), (990, 1002),
                                        (1051, 1247), (237, 1432)]):
    ftext(px, py, letter, ha="center", va="center", fontsize=21, weight="bold")

# caption and page frame
ftext(26, 1640, "Fig. 9", ha="left", va="center", fontsize=12.5, weight="bold",
      family=["Open Sans", "DejaVu Sans"], color="#333333")
ftext(76, 1640, "(See legend on next page.)", ha="left", va="center", fontsize=12.5,
      family=["Open Sans", "DejaVu Sans"], color="#555555")
frame = FancyBboxPatch((10, H - 1652), 1400, 1652 - 10, boxstyle="round,pad=0,rounding_size=14",
                       transform=IdentityTransform(), fill=False, ec="#9a9a9a", lw=1.0)
fig.add_artist(frame)

fig.savefig("out.png", dpi=100)
